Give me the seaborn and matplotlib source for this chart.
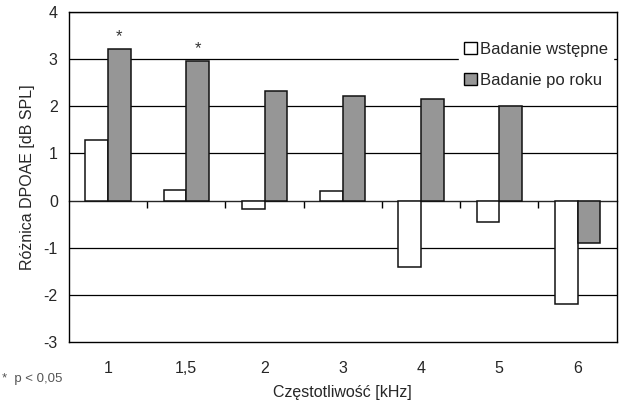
import matplotlib
matplotlib.use("Agg")
import matplotlib.pyplot as plt
from matplotlib.patches import Patch
import seaborn as sns
import pandas as pd
import numpy as np

freqs = ["1", "1,5", "2", "3", "4", "5", "6"]
wstepne = [1.28, 0.23, -0.18, 0.2, -1.4, -0.45, -2.2]
po_roku = [3.22, 2.96, 2.33, 2.22, 2.15, 2.0, -0.9]
signif = [True, True, False, False, False, False, False]
series = ["Badanie wstępne", "Badanie po roku"]

df = pd.DataFrame({
    "freq": freqs * 2,
    "val": wstepne + po_roku,
    "grupa": [series[0]] * len(freqs) + [series[1]] * len(freqs),
})

sns.set_style("white")
plt.rcParams["font.family"] = ["Liberation Sans", "DejaVu Sans"]

fig, ax = plt.subplots(figsize=(6.21, 4.0), dpi=100)
fig.subplots_adjust(left=0.111, right=0.993, top=0.97, bottom=0.145)

sns.barplot(data=df, x="freq", y="val", hue="grupa", order=freqs,
            hue_order=series, palette=["white", "#969696"], width=0.58,
            edgecolor="#111111", linewidth=1.1, legend=False, ax=ax,
            zorder=3)

ax.set_ylim(-3, 4)
ax.set_xlim(-0.5, len(freqs) - 0.5)
ax.set_yticks(range(-3, 5))
ax.set_yticklabels([str(v) for v in range(-3, 5)], fontsize=11.5)
for v in [-2, -1, 1, 2, 3, 4]:
    ax.axhline(v, color="black", linewidth=0.9, zorder=1)

for s in ax.spines.values():
    s.set_color("black")
    s.set_linewidth(1.0)

ax.tick_params(axis="y", direction="out", length=4, width=1, color="black", pad=4)
ax.tick_params(axis="x", length=0, pad=14, labelsize=11.5)

# zero line with category-boundary ticks
sec = ax.secondary_xaxis(3 / 7)
sec.set_xticks(np.arange(0.5, len(freqs) - 0.5, 1.0))
sec.set_xticklabels([])
sec.tick_params(direction="out", length=5, width=1, color="black")
sec.spines["bottom"].set_linewidth(1.0)

# asterisks
for i, s in enumerate(signif):
    if s:
        ax.text(i + 0.145, po_roku[i] + 0.1, "*", ha="center", va="bottom",
                fontsize=12, color="#333333")

ax.set_xlabel("Częstotliwość [kHz]", fontsize=11.5, labelpad=6)
ax.set_ylabel("Różnica DPOAE [dB SPL]", fontsize=11.5, labelpad=6)

handles = [Patch(facecolor="white", edgecolor="black", linewidth=1.0),
           Patch(facecolor="#969696", edgecolor="black", linewidth=1.0)]
leg = ax.legend(handles, series, loc="upper right", bbox_to_anchor=(1.0, 0.935),
                frameon=True, fontsize=12, handlelength=0.75, handleheight=0.75,
                handletextpad=0.2, borderpad=0.3, labelspacing=0.95,
                borderaxespad=0.2, fancybox=False)
leg.get_frame().set_edgecolor("white")
leg.get_frame().set_facecolor("white")
leg.get_frame().set_alpha(1.0)
leg.set_zorder(5)

fig.text(0.004, 0.045, "*  p < 0,05", fontsize=9.5, color="#555555")

fig.savefig("out.png", dpi=100)
